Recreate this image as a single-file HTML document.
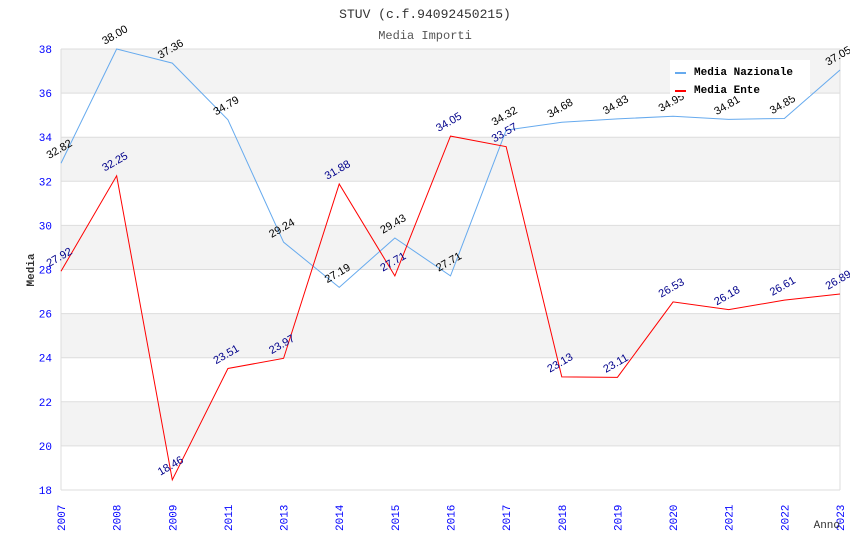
<!DOCTYPE html>
<html><head><meta charset="utf-8"><style>
body{margin:0;background:#fff}
svg{display:block}
text{font-family:"Liberation Sans",sans-serif}
.mono{font-family:"Liberation Mono","DejaVu Sans Mono",monospace}
</style></head><body>
<svg id="chart" width="850" height="550" xmlns="http://www.w3.org/2000/svg">
<text class="mono" x="425" y="18" text-anchor="middle" font-size="13" fill="#333">STUV (c.f.94092450215)</text>
<text class="mono" x="425" y="39" text-anchor="middle" font-size="12" fill="#555">Media Importi</text>
<g id="grid"></g><g id="marks"></g><g id="labels"></g>
<text class="mono" transform="translate(34,270) rotate(-90)" text-anchor="middle" font-size="11" font-weight="bold" fill="#333">Media</text>
<text class="mono" x="840" y="528" text-anchor="end" font-size="11" fill="#333">Anno</text>
<g>
<rect x="670" y="60" width="140" height="36" fill="#fff"/>
<line x1="675" y1="73" x2="686" y2="73" stroke="#66aaee" stroke-width="2"/>
<text class="mono" x="694" y="75" font-size="11" font-weight="bold">Media Nazionale</text>
<line x1="675" y1="91" x2="686" y2="91" stroke="#f00" stroke-width="2"/>
<text class="mono" x="694" y="93" font-size="11" font-weight="bold">Media Ente</text>
</g>
</svg>
<script>
const categories=["2007","2008","2009","2011","2013","2014","2015","2016","2017","2018","2019","2020","2021","2022","2023"];
const nazionale=[32.82,38.00,37.36,34.79,29.24,27.19,29.43,27.71,34.32,34.68,34.83,34.95,34.81,34.85,37.05];
const ente=[27.92,32.25,18.46,23.51,23.97,31.88,27.71,34.05,33.57,23.13,23.11,26.53,26.18,26.61,26.89];
const yTicks=[18,20,22,24,26,28,30,32,34,36,38];
const X0=61,X1=840,Y0=490,Y1=49,YMIN=18,YMAX=38;
const NS="http://www.w3.org/2000/svg";
const xs=i=>X0+(X1-X0)*i/(categories.length-1);
const ys=v=>Y0-(v-YMIN)/(YMAX-YMIN)*(Y0-Y1);
function mk(t,a,p){const e=document.createElementNS(NS,t);for(const k in a)e.setAttribute(k,a[k]);p.appendChild(e);return e;}
const grid=document.getElementById('grid'),marks=document.getElementById('marks'),labels=document.getElementById('labels');
for(let i=0;i<yTicks.length-1;i++){
  if((yTicks.length-2-i)%2===0){const r=mk('rect',{x:X0,y:ys(yTicks[i+1]),width:X1-X0,height:ys(yTicks[i])-ys(yTicks[i+1]),fill:'#f3f3f3'},grid);
  
  }
}
yTicks.forEach(v=>{
  const l=mk('line',{x1:X0,x2:X1,y1:ys(v),y2:ys(v),stroke:'#ddd'},grid);
  
  
  const t=mk('text',{x:X0-9,y:ys(v)+4,'text-anchor':'end','font-size':11,fill:'#00f',class:'mono'},grid);
  t.textContent=v;
  
  
});
mk('line',{x1:X0,x2:X0,y1:Y1,y2:Y0,stroke:'#ddd'},grid);
mk('line',{x1:X1,x2:X1,y1:Y1,y2:Y0,stroke:'#ddd'},grid);
categories.forEach((c,i)=>{
  const t=mk('text',{transform:`translate(${xs(i)+4},531) rotate(-90)`,'font-size':11,fill:'#00f',class:'mono'},grid);
  t.textContent=c;
  
  
});
function series(vals,color,lc,name){
  const p=mk('polyline',{points:vals.map((v,i)=>xs(i)+','+ys(v)).join(' '),fill:'none',stroke:color,'stroke-width':1},marks);
  
  
  vals.forEach((v,i)=>{
    const x=xs(i),y=ys(v)-11;
    const t=mk('text',{transform:`translate(${x},${y}) rotate(-30)`,'text-anchor':'middle','font-size':11,fill:lc},labels);
    t.textContent=v.toFixed(2);
    
    
  });
}
series(nazionale,'#66aaee','#000','nazionale');
series(ente,'#f00','#00008b','ente');
</script>
</body></html>
